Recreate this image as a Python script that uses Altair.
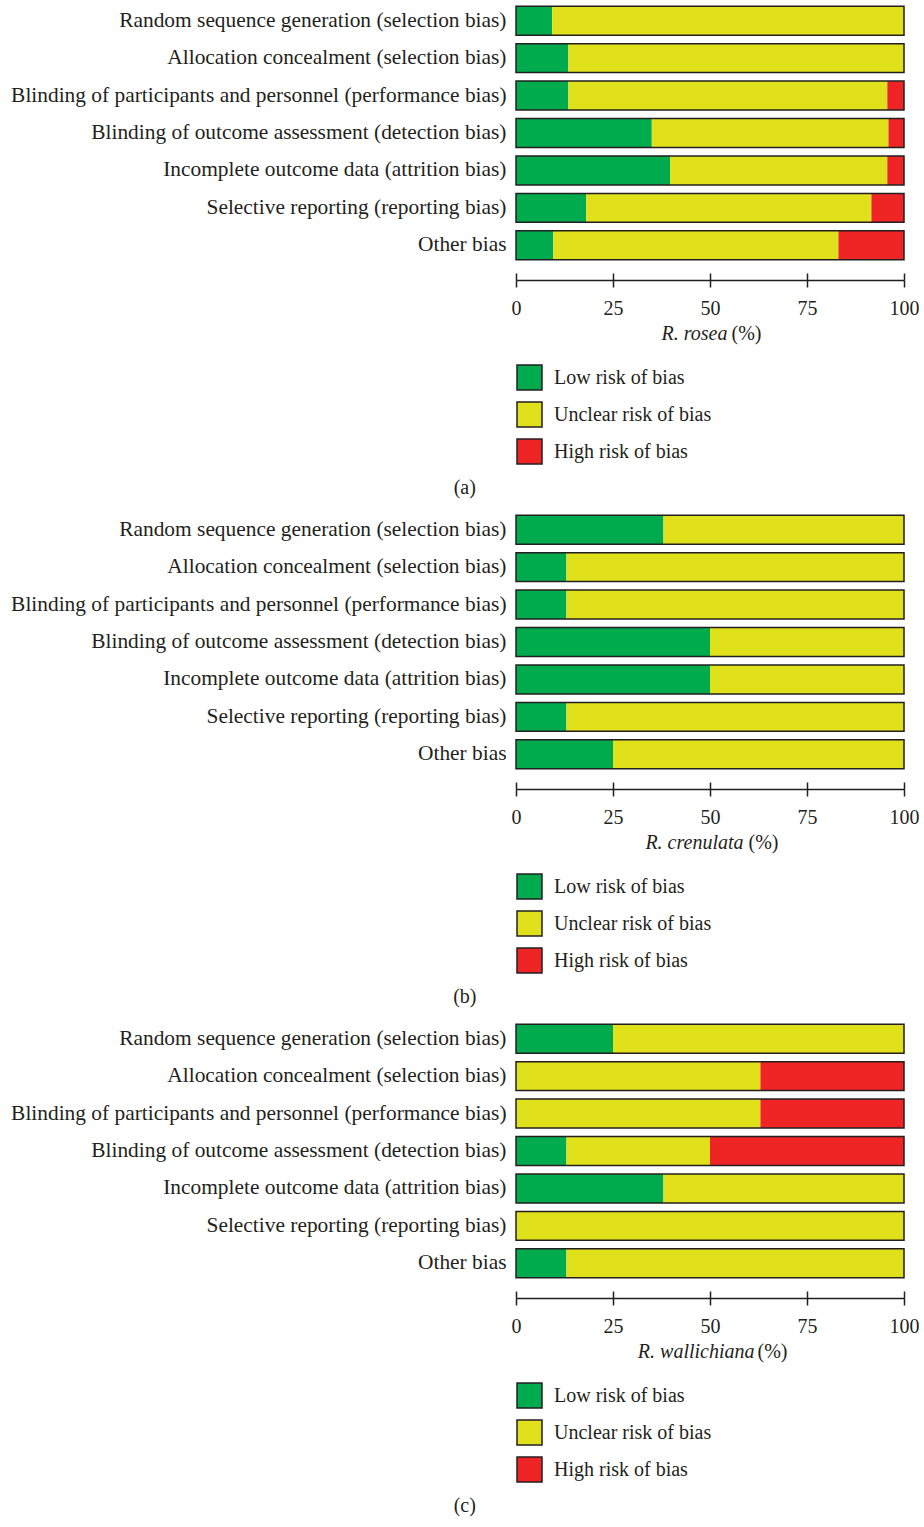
import altair as alt
import pandas as pd

# Risk-of-bias domains, top to bottom
domains = [
    "Random sequence generation (selection bias)",
    "Allocation concealment (selection bias)",
    "Blinding of participants and personnel (performance bias)",
    "Blinding of outcome assessment (detection bias)",
    "Incomplete outcome data (attrition bias)",
    "Selective reporting (reporting bias)",
    "Other bias",
]
risk_levels = ["Low risk of bias", "Unclear risk of bias", "High risk of bias"]
risk_colors = ["#00AB4E", "#E0E11B", "#EE2524"]

# Percentages of studies per judgement, one list per species and judgement
rosea_low = [9.3, 13.5, 13.5, 35.0, 39.7, 18.1, 9.6]
rosea_unclear = [90.7, 86.5, 82.2, 61.0, 56.0, 73.5, 73.5]
rosea_high = [0.0, 0.0, 4.3, 4.0, 4.3, 8.4, 16.9]

crenulata_low = [38.0, 13.0, 13.0, 50.0, 50.0, 13.0, 25.0]
crenulata_unclear = [62.0, 87.0, 87.0, 50.0, 50.0, 87.0, 75.0]
crenulata_high = [0.0, 0.0, 0.0, 0.0, 0.0, 0.0, 0.0]

wallichiana_low = [25.0, 0.0, 0.0, 13.0, 38.0, 0.0, 13.0]
wallichiana_unclear = [75.0, 63.0, 63.0, 37.0, 62.0, 100.0, 87.0]
wallichiana_high = [0.0, 37.0, 37.0, 50.0, 0.0, 0.0, 0.0]

FONT = "Liberation Serif"
INK = "#231f20"
FS = 20
tick_values = [0, 25, 50, 75, 100]


def long_table(low, unclear, high):
    rows = []
    for i, d in enumerate(domains):
        for rank, (risk, vals) in enumerate(zip(risk_levels, [low, unclear, high])):
            rows.append({"domain": d, "risk": risk, "rank": rank, "pct": vals[i]})
    return pd.DataFrame(rows)


def panel(low, unclear, high, species, caption, title_end, pct_start):
    df = long_table(low, unclear, high)
    xscale = alt.Scale(domain=[0, 100], nice=False, zero=True)
    yscale = alt.Scale(domain=domains, paddingInner=0.227, paddingOuter=0.1135)
    yaxis = alt.Axis(
        title=None, ticks=False, domain=False, labelLimit=0,
        labelFont=FONT, labelFontSize=21.4, labelColor=INK, labelPadding=10,
    )

    # lower half of the ticks, axis line, labels and the italic species name
    axis_main = alt.Axis(
        orient="bottom", values=tick_values, offset=16, grid=False,
        domain=True, domainColor=INK, domainWidth=1.5,
        ticks=True, tickSize=7, tickColor=INK, tickWidth=1.5,
        labelFont=FONT, labelFontSize=FS, labelColor=INK, labelPadding=11,
        labelFlush=False,
        title=species, titleFont=FONT, titleFontSize=FS, titleColor=INK,
        titleFontStyle="italic", titleFontWeight="normal",
        titleAlign="right", titleAnchor="start", titleBaseline="alphabetic",
        titleX=title_end, titleY=59,
    )
    # upper half of the ticks and the "(%)" unit
    axis_upper = alt.Axis(
        orient="bottom", values=tick_values, offset=9, grid=False, domain=False,
        ticks=True, tickSize=7, tickColor=INK, tickWidth=1.5,
        labels=False,
        title="(%)", titleFont=FONT, titleFontSize=FS, titleColor=INK,
        titleFontWeight="normal",
        titleAlign="left", titleAnchor="start", titleBaseline="alphabetic",
        titleX=pct_start, titleY=66,
    )

    bars = alt.Chart(df).mark_bar(strokeWidth=0).encode(
        x=alt.X("pct:Q", stack="zero", scale=xscale, axis=axis_main),
        y=alt.Y("domain:N", sort=domains, scale=yscale, axis=yaxis),
        color=alt.Color(
            "risk:N",
            scale=alt.Scale(domain=risk_levels, range=risk_colors),
            legend=alt.Legend(
                title=None, orient="none", legendX=0, legendY=362,
                direction="vertical", symbolType="square", symbolSize=625,
                symbolStrokeColor=INK, symbolStrokeWidth=1.5,
                labelFont=FONT, labelFontSize=FS, labelColor=INK,
                labelOffset=11, rowPadding=6, labelLimit=0,
            ),
        ),
        order=alt.Order("rank:Q"),
    )

    outline = alt.Chart(df).mark_bar(
        fillOpacity=0, stroke=INK, strokeWidth=1.5
    ).encode(
        x=alt.X("sum(pct):Q", scale=xscale, axis=axis_upper),
        y=alt.Y("domain:N", sort=domains, scale=yscale, axis=yaxis),
    )

    return (
        alt.layer(bars, outline)
        .resolve_axis(x="independent")
        .properties(
            width=388, height=262,
            title=alt.TitleParams(
                caption, orient="bottom", anchor="middle", frame="bounds",
                font=FONT, fontSize=FS, fontWeight="normal", color=INK, offset=11,
            ),
        )
    )


chart = (
    alt.vconcat(
        panel(rosea_low, rosea_unclear, rosea_high, "R. rosea", "(a)", 211, 215),
        panel(crenulata_low, crenulata_unclear, crenulata_high, "R. crenulata", "(b)", 227, 232),
        panel(wallichiana_low, wallichiana_unclear, wallichiana_high, "R. wallichiana", "(c)", 238, 241),
        spacing=13,
    )
    .resolve_scale(color="independent")
    .properties(padding={"left": 10, "top": 2, "right": 0, "bottom": 0}, background="white")
    .configure_view(stroke=None)
)

chart.save("out.html", embed_options={"renderer": "svg", "actions": False})
